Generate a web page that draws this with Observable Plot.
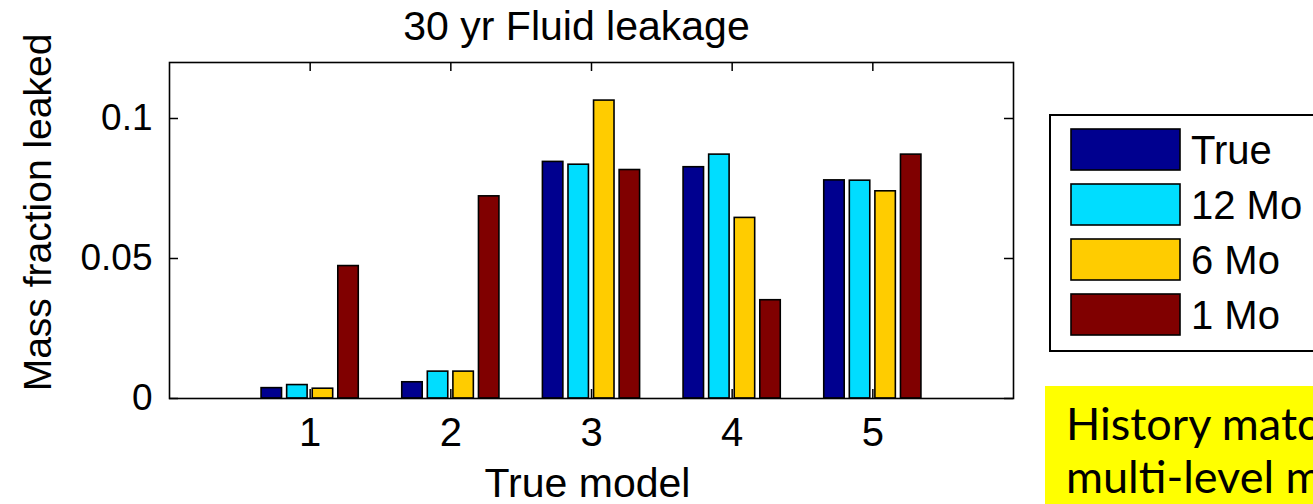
<!DOCTYPE html>
<html>
<head>
<meta charset="utf-8">
<script src="https://cdn.jsdelivr.net/npm/d3@7"></script>
<script src="https://cdn.jsdelivr.net/npm/@observablehq/plot@0.6"></script>
<style>
  html, body { margin: 0; padding: 0; background: #fff; }
  #wrap { position: relative; width: 1313px; height: 504px; overflow: hidden; background: #fff; }
  #wrap svg { position: absolute; left: 0; top: 0; }
</style>
</head>
<body>
<div id="wrap"></div>
<script>
// ---- data ----
const models = [1, 2, 3, 4, 5];
const seriesNames = ["True", "12 Mo", "6 Mo", "1 Mo"];
const seriesColors = ["#00008F", "#00DDFF", "#FFCC00", "#800000"];
const trueVals = [0.0037, 0.0058, 0.0845, 0.0826, 0.0779];
const mo12Vals = [0.0048, 0.0096, 0.0835, 0.0871, 0.0778];
const mo6Vals  = [0.0035, 0.0096, 0.1064, 0.0645, 0.0740];
const mo1Vals  = [0.0473, 0.0722, 0.0816, 0.0351, 0.0871];
const xTicks = [1, 2, 3, 4, 5];
const yTicks = [0, 0.05, 0.1];
const titleText = "30 yr Fluid leakage";
const xLabel = "True model";
const yLabel = "Mass fraction leaked";
const noteLines = ["History matching", "multi-level models"];

// ---- build table (MATLAB-style grouped bars) ----
const seriesVals = [trueVals, mo12Vals, mo6Vals, mo1Vals];
const n = seriesVals.length;
const groupWidth = Math.min(0.8, n / (n + 1.5));
const slot = groupWidth / n;
const barW = slot * 0.8;
const rows = [];
seriesVals.forEach((vals, i) => {
  vals.forEach((v, j) => {
    const x1 = models[j] - groupWidth / 2 + i * slot + (slot - barW) / 2;
    rows.push({ model: models[j], series: seriesNames[i], value: v, x1, x2: x1 + barW });
  });
});

const W = 1313, H = 504;
const mL = 169, mR = 300, mT = 62, mB = 106;
const plotW = W - mL - mR, plotH = H - mT - mB;
const font = "'Liberation Sans', Arial, Helvetica, sans-serif";

const chart = Plot.plot({
  width: W, height: H,
  marginLeft: mL, marginRight: mR, marginTop: mT, marginBottom: mB,
  style: { fontFamily: font, background: "transparent", color: "#000", overflow: "visible" },
  x: { domain: [0, 6], axis: null },
  y: { domain: [0, 0.12], axis: null },
  color: { domain: seriesNames, range: seriesColors },
  marks: [
    // bottom ticks (drawn below bars, like the reference)
    Plot.tickX(xTicks, { x: d => d, insetTop: plotH - 9, stroke: "#000", strokeWidth: 1.5 }),
    Plot.rect(rows, { x1: "x1", x2: "x2", y1: 0, y2: "value", fill: "series", stroke: "#000", strokeWidth: 1.6 }),
    // top ticks
    Plot.tickX(xTicks, { x: d => d, insetBottom: plotH - 9, stroke: "#000", strokeWidth: 1.5 }),
    // left & right ticks
    Plot.tickY(yTicks, { y: d => d, insetRight: plotW - 9, stroke: "#000", strokeWidth: 1.5 }),
    Plot.tickY(yTicks, { y: d => d, insetLeft: plotW - 9, stroke: "#000", strokeWidth: 1.5 }),
    Plot.frame({ stroke: "#000", strokeWidth: 1.6 }),
    // tick labels
    Plot.text(xTicks, { x: d => d, text: d => String(d), frameAnchor: "bottom", lineAnchor: "bottom", dy: 47, fontSize: 40, fill: "#000" }),
    Plot.text(yTicks, { y: d => d, text: d => String(d), frameAnchor: "left", textAnchor: "end", dx: -17, fontSize: 37, fill: "#000" }),
    // title & axis labels
    Plot.text([titleText], { text: d => d, frameAnchor: "top", lineAnchor: "bottom", dy: -23, dx: -15, fontSize: 41, fill: "#000" }),
    Plot.text([xLabel], { text: d => d, frameAnchor: "bottom", lineAnchor: "bottom", dy: 98, dx: -4, fontSize: 41, fill: "#000" }),
    Plot.text([yLabel], { text: d => d, frameAnchor: "left", textAnchor: "middle", lineAnchor: "bottom", rotate: -90, dx: -119, dy: -18, fontSize: 39, fill: "#000" })
  ]
});
document.getElementById("wrap").appendChild(chart);

// ---- legend + note overlay ----
const ov = d3.select("#wrap").append("svg")
  .attr("width", W).attr("height", H)
  .style("pointer-events", "none");

const lg = ov.append("g");
lg.append("rect").attr("x", 1050).attr("y", 115).attr("width", 400).attr("height", 236)
  .attr("fill", "#fff").attr("stroke", "#000").attr("stroke-width", 2);
seriesNames.forEach((name, i) => {
  const top = 129 + i * 55;
  lg.append("rect").attr("x", 1071).attr("y", top).attr("width", 109).attr("height", 41)
    .attr("fill", seriesColors[i]).attr("stroke", "#000").attr("stroke-width", 1.6);
  lg.append("text").attr("x", 1191).attr("y", top + 35)
    .attr("font-family", font).attr("font-size", 40).attr("fill", "#000").text(name);
});

const note = ov.append("g");
note.append("rect").attr("x", 1045).attr("y", 386).attr("width", 400).attr("height", 200).attr("fill", "#FFFF00");
noteLines.forEach((line, i) => {
  note.append("text").attr("x", 1066).attr("y", 440 + i * 53)
    .attr("font-family", "Lato, 'Open Sans', sans-serif").attr("font-size", 45).attr("fill", "#000").text(line);
});
</script>
</body>
</html>
